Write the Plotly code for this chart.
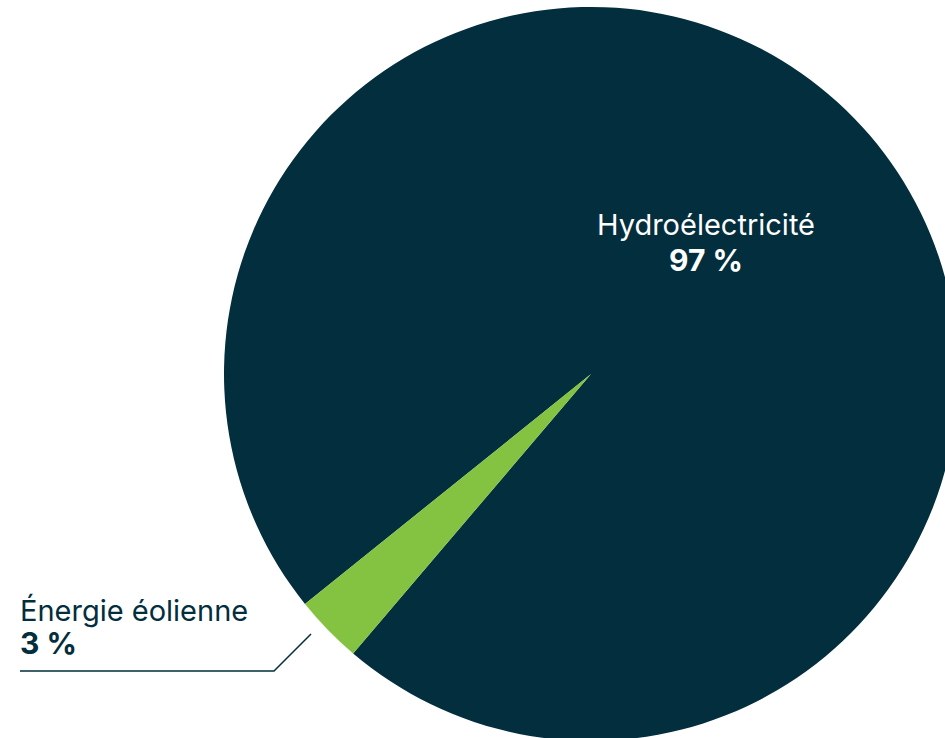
import plotly.graph_objects as go

labels = ["Hydroélectricité", "Énergie éolienne"]
values = [97, 3]
pct_text = ["97 %", "3 %"]
colors = ["#022E3D", "#84C341"]

W, H = 960, 745

def px(x):
    return x / W

def py(y):
    return 1 - y / H

fig = go.Figure()
fig.add_trace(go.Pie(
    labels=labels,
    values=values,
    sort=False,
    direction="clockwise",
    rotation=231.2,
    marker=dict(colors=colors, line=dict(width=0)),
    textinfo="none",
    hoverinfo="skip",
    showlegend=False,
    domain=dict(x=[px(224), px(958)], y=[py(741), py(7)]),
))

font = "Inter, Lato, sans-serif"
ann = [
    dict(text=labels[0], x=px(706), y=py(224.5), color="white", bold=False, xanchor="center", size=29),
    dict(text=pct_text[0], x=px(706), y=py(259.5), color="white", bold=True, xanchor="center", size=30),
    dict(text=labels[1], x=px(18), y=py(610.5), color="#022E3D", bold=False, xanchor="left", size=29),
    dict(text=pct_text[1], x=px(18), y=py(643), color="#022E3D", bold=True, xanchor="left", size=30),
]
for a in ann:
    fig.add_annotation(
        text=("<b>%s</b>" % a["text"]) if a["bold"] else a["text"],
        x=a["x"], y=a["y"], xref="paper", yref="paper",
        xanchor=a["xanchor"], yanchor="middle", showarrow=False,
        font=dict(family=font, size=a["size"], color=a["color"]),
    )

# leader line for the wind slice label
fig.add_shape(type="path", xref="paper", yref="paper",
              path="M %f %f L %f %f L %f %f" % (px(20), py(671), px(274), py(671), px(311), py(634)),
              line=dict(color="#022E3D", width=1.5))

fig.update_layout(
    width=W, height=H,
    margin=dict(l=0, r=0, t=0, b=0),
    paper_bgcolor="white",
    plot_bgcolor="white",
)

fig.write_html("out.html", config={"displayModeBar": False},
               post_script="document.body.style.margin='0';document.body.style.overflow='hidden';document.documentElement.style.overflow='hidden';")
